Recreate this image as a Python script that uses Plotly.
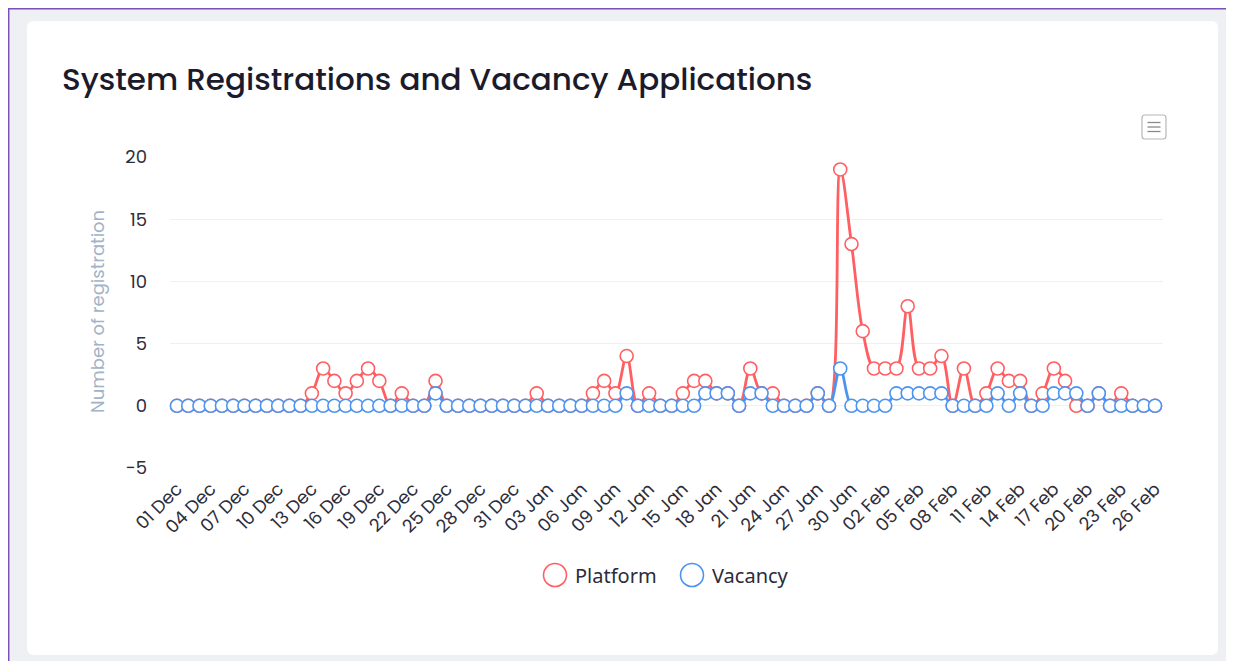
import plotly.graph_objects as go
import pandas as pd

# ---------------- data ----------------
dates = pd.date_range("2023-12-01", "2024-02-26", freq="D")
day_labels = [d.strftime("%d %b") for d in dates]

platform = [0, 0, 0, 0, 0, 0, 0, 0, 0, 0, 0, 0, 1, 3, 2, 1, 2, 3, 2, 0,
            1, 0, 0, 2, 0, 0, 0, 0, 0, 0, 0, 0, 1, 0, 0, 0, 0, 1, 2, 1,
            4, 0, 1, 0, 0, 1, 2, 2, 1, 1, 0, 3, 1, 1, 0, 0, 0, 1, 0, 19,
            13, 6, 3, 3, 3, 8, 3, 3, 4, 0, 3, 0, 1, 3, 2, 2, 0, 1, 3, 2,
            0, 0, 1, 0, 1, 0, 0, 0]
vacancy = [0, 0, 0, 0, 0, 0, 0, 0, 0, 0, 0, 0, 0, 0, 0, 0, 0, 0, 0, 0,
           0, 0, 0, 1, 0, 0, 0, 0, 0, 0, 0, 0, 0, 0, 0, 0, 0, 0, 0, 0,
           1, 0, 0, 0, 0, 0, 0, 1, 1, 1, 0, 1, 1, 0, 0, 0, 0, 1, 0, 3,
           0, 0, 0, 0, 1, 1, 1, 1, 1, 0, 0, 0, 0, 1, 0, 1, 0, 0, 1, 1,
           1, 0, 1, 0, 0, 0, 0, 0]
series_names = ["Platform", "Vacancy"]
tick_labels = day_labels[::3]
y_ticks = [-5, 0, 5, 10, 15, 20]

RED = "#ff5f62"
BLUE = "#4d94f0"
FONT = "Poppins, Inter, sans-serif"

# ---------------- geometry helpers (screen pixels -> paper) ----------------
W, H = 1234, 661
OFF = 8  # page body margin
PL, PR, PT, PB = 170, 1163, 157, 468   # plot area in screen pixels
def px(x):
    return (x - PL) / (PR - PL)
def py(y):
    return (PB - y) / (PB - PT)

def rounded_rect(x0, y0, x1, y1, r):
    return (f"M {px(x0 + r)} {py(y0)} L {px(x1 - r)} {py(y0)} "
            f"Q {px(x1)} {py(y0)} {px(x1)} {py(y0 + r)} "
            f"L {px(x1)} {py(y1 - r)} Q {px(x1)} {py(y1)} {px(x1 - r)} {py(y1)} "
            f"L {px(x0 + r)} {py(y1)} Q {px(x0)} {py(y1)} {px(x0)} {py(y1 - r)} "
            f"L {px(x0)} {py(y0 + r)} Q {px(x0)} {py(y0)} {px(x0 + r)} {py(y0)} Z")

fig = go.Figure()
for name, vals, col in ((series_names[0], platform, RED), (series_names[1], vacancy, BLUE)):
    fig.add_trace(go.Scatter(
        x=day_labels, y=vals, name=name, mode="lines+markers",
        line=dict(color=col, width=2.8, shape="spline", smoothing=1),
        marker=dict(size=13, color="white", line=dict(color=col, width=1.6)),
        showlegend=False, cliponaxis=False))

shapes = [
    dict(type="rect", xref="paper", yref="paper", x0=px(OFF), y0=py(OFF), x1=px(W + 20), y1=py(H + 20),
         fillcolor="#eef0f3", line=dict(width=0), layer="below"),
    dict(type="line", xref="paper", yref="paper", x0=px(OFF), y0=py(OFF + 0.7), x1=px(W + 20), y1=py(OFF + 0.7),
         line=dict(color="#7b4fb8", width=1.5), layer="below"),
    dict(type="line", xref="paper", yref="paper", x0=px(OFF + 0.7), y0=py(OFF), x1=px(OFF + 0.7), y1=py(H + 20),
         line=dict(color="#7b4fb8", width=1.5), layer="below"),
    dict(type="path", xref="paper", yref="paper", path=rounded_rect(27, 21, 1218, 655, 7),
         fillcolor="white", line=dict(width=0), layer="below"),
    dict(type="path", xref="paper", yref="paper", path=rounded_rect(1142, 115, 1166, 139, 3),
         fillcolor="white", line=dict(color="#b8b8b8", width=1.2), layer="above"),
]
for yy in (122.5, 127, 131.5):
    shapes.append(dict(type="line", xref="paper", yref="paper",
                       x0=px(1147.5), x1=px(1160.5), y0=py(yy), y1=py(yy),
                       line=dict(color="#8a8a8a", width=1.3), layer="above"))

# manual legend (large open circles)
annotations = [dict(text="Number of registration", xref="paper", yref="paper",
                    x=px(97), y=py(312), textangle=-90, showarrow=False,
                    xanchor="center", yanchor="middle",
                    font=dict(family=FONT, size=18, color="#a3b2c7"))]
legend_pos = [(555, 573), (692, 710)]
for (cx, tx), name, col in zip(legend_pos, series_names, (RED, BLUE)):
    shapes.append(dict(type="circle", xref="paper", yref="paper",
                       x0=px(cx - 11.5), x1=px(cx + 11.5), y0=py(575 - 11.5), y1=py(575 + 11.5),
                       fillcolor="white", line=dict(color=col, width=1.6), layer="above"))
    annotations.append(dict(text=name, xref="paper", yref="paper", x=px(tx), y=py(575),
                            xanchor="left", yanchor="middle", showarrow=False,
                            font=dict(family="Noto Sans, sans-serif", size=20, color="#2b2b3b")))

fig.update_layout(
    width=W, height=H,
    margin=dict(l=PL - OFF, r=W - (PR - OFF), t=PT - OFF, b=H - (PB - OFF), pad=0),
    paper_bgcolor="white", plot_bgcolor="rgba(0,0,0,0)",
    title=dict(text="System Registrations and Vacancy Applications",
               x=(62 - OFF) / W, xanchor="left", xref="container",
               y=1 - (79 - OFF) / H, yanchor="middle", yref="container",
               font=dict(family=FONT, size=31, color="#1b1b2b", weight=500)),
    showlegend=False,
    shapes=shapes,
    annotations=annotations,
)

fig.update_xaxes(type="category", range=[-0.62, 87.71],
                 tickmode="array", tickvals=tick_labels, ticktext=tick_labels,
                 tickangle=-45, showgrid=False, zeroline=False, showline=False, ticks="",
                 ticklabelstandoff=6,
                 tickfont=dict(family=FONT, size=18, color="#2e2e3a"))
fig.update_yaxes(range=[-5, 20], tickvals=y_ticks, showgrid=True, gridcolor="#eef0f4",
                 gridwidth=1, zeroline=False, showline=False, ticks="", ticklabelstandoff=22,
                 tickfont=dict(family=FONT, size=18, color="#2e2e3a"))

fig.write_html("out.html")
